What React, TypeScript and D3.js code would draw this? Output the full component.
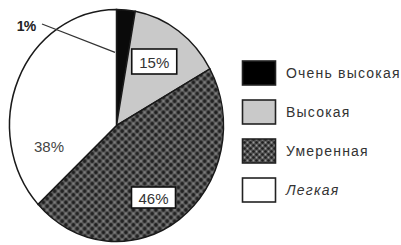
import React from "react";
import * as d3 from "d3";

const categories = ["Очень высокая", "Высокая", "Умеренная", "Легкая"];
const shares = [2.8, 14.1, 46.2, 36.9];
const labels = ["1%", "15%", "46%", "38%"];

const W = 401;
const H = 245;
const cx = 116.5;
const cy = 125.5;
const rx = 107;
const ry = 116;

export default function App() {
  const pie = d3.pie<number>().sort(null).value((d) => d)(shares);
  const arc = d3.arc<d3.PieArcDatum<number>>().innerRadius(0).outerRadius(ry);
  const sx = rx / ry;
  const fills = ["#0a0a0a", "#c9c9c9", "url(#dots)", "#ffffff"];
  const legendY = d3.scaleBand<string>().domain(categories).range([61, 202]).paddingInner(0.385);

  const lp = (i: number, f: number) => {
    const a = (pie[i].startAngle + pie[i].endAngle) / 2;
    return [cx + Math.sin(a) * rx * f, cy - Math.cos(a) * ry * f];
  };
  const p15 = lp(1, 0.6);
  const p46 = lp(2, 0.62);
  const a0 = pie[0].startAngle;
  const pBlack = [cx + Math.sin(a0) * rx * 0.63, cy - Math.cos(a0) * ry * 0.63];

  const font = "Liberation Sans, Arial, sans-serif";

  return (
    <svg width={W} height={H} style={{ position: "absolute", left: 0, top: 0, background: "#fff" }}>
      <defs>
        <pattern id="dots" width={7.5} height={7.5} patternUnits="userSpaceOnUse" patternTransform={`scale(${1 / sx},1)`}>
          <rect width={7.5} height={7.5} fill="#5e5e5e" />
          <circle cx={1.9} cy={1.9} r={1.8} fill="#1e1e1e" />
          <circle cx={5.65} cy={5.65} r={1.8} fill="#222" />
          <circle cx={5.65} cy={1.9} r={1.0} fill="#858585" />
          <circle cx={1.9} cy={5.65} r={1.0} fill="#858585" />
        </pattern>
        <pattern id="dotsLeg" width={6} height={6} patternUnits="userSpaceOnUse">
          <rect width={6} height={6} fill="#555" />
          <circle cx={1.5} cy={1.5} r={1.3} fill="#1e1e1e" />
          <circle cx={4.5} cy={4.5} r={1.3} fill="#1e1e1e" />
          <circle cx={4.5} cy={1.5} r={0.9} fill="#999" />
          <circle cx={1.5} cy={4.5} r={0.9} fill="#999" />
        </pattern>
      </defs>
      <g transform={`translate(${cx},${cy}) scale(${sx},1)`}>
        {pie.map((p, i) => (
          <path
            key={i}
            d={arc(p) as string}
            fill={fills[i]}
            stroke="#1a1a1a"
            strokeWidth={1.5}
            vectorEffect="non-scaling-stroke"
          />
        ))}
      </g>
      <line x1={42} y1={24} x2={pBlack[0] - 1.5} y2={pBlack[1]} stroke="#333" strokeWidth={1.3} />
      <text x={26} y={26} fontFamily={font} fontSize={14} fontWeight="bold" fill="#222" textAnchor="middle" dominantBaseline="central" letterSpacing={-0.8}>
        {labels[0]}
      </text>
      <rect x={p15[0] - 22} y={49} width={45} height={25} fill="#fff" stroke="#111" strokeWidth={1.6} />
      <text x={p15[0] + 0.5} y={62} fontFamily={font} fontSize={15} fill="#333" textAnchor="middle" dominantBaseline="central">
        {labels[1]}
      </text>
      <rect x={p46[0] - 24} y={187} width={44} height={21} fill="#fff" stroke="#111" strokeWidth={1.6} />
      <text x={p46[0] - 2} y={198} fontFamily={font} fontSize={15} fill="#333" textAnchor="middle" dominantBaseline="central">
        {labels[2]}
      </text>
      <text x={49} y={146} fontFamily={font} fontSize={15} fill="#444" textAnchor="middle" dominantBaseline="central">
        {labels[3]}
      </text>
      {categories.map((c, i) => {
        const y = legendY(c) as number;
        const h = legendY.bandwidth();
        const lf = ["#000", "#c9c9c9", "url(#dotsLeg)", "#fff"][i];
        return (
          <g key={c}>
            <rect x={242.5} y={y} width={33} height={h} fill={lf} stroke="#222" strokeWidth={1.6} />
            <text
              x={286}
              y={y + h / 2}
              fontFamily={font}
              fontSize={14}
              fill="#333"
              letterSpacing={1.2}
              dominantBaseline="central"
              fontStyle={i === 3 ? "italic" : "normal"}
            >
              {c}
            </text>
          </g>
        );
      })}
    </svg>
  );
}
